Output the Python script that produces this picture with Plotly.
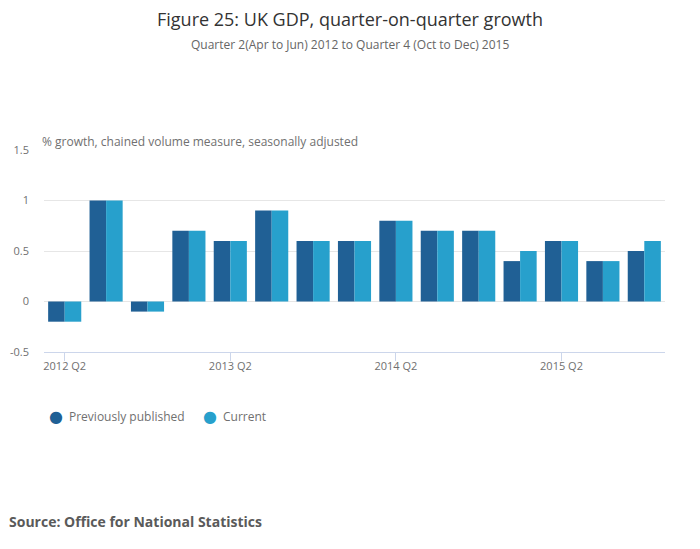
import plotly.graph_objects as go

quarters = ["2012 Q2", "2012 Q3", "2012 Q4", "2013 Q1", "2013 Q2", "2013 Q3", "2013 Q4",
            "2014 Q1", "2014 Q2", "2014 Q3", "2014 Q4", "2015 Q1", "2015 Q2", "2015 Q3", "2015 Q4"]
previously_published = [-0.2, 1.0, -0.1, 0.7, 0.6, 0.9, 0.6, 0.6, 0.8, 0.7, 0.7, 0.4, 0.6, 0.4, 0.5]
current = [-0.2, 1.0, -0.1, 0.7, 0.6, 0.9, 0.6, 0.6, 0.8, 0.7, 0.7, 0.5, 0.6, 0.4, 0.6]
x_ticks = ["2012 Q2", "2013 Q2", "2014 Q2", "2015 Q2"]
y_ticks = [-0.5, 0, 0.5, 1, 1.5]

dark = "#206095"
light = "#27a0cc"
grey = "#707070"

# page body has an 8px margin, so the figure is a bit smaller than the window
W, H = 684, 533
L, T, R, B = 36, 142, 27, 189
pw, ph = W - L - R, H - T - B


def px_x(px):
    return (px - L) / pw


def px_y(py):
    return (H - B - py) / ph


fig = go.Figure()
fig.add_trace(go.Bar(x=quarters, y=previously_published, name="Previously published",
                     marker=dict(color=dark, line=dict(width=0))))
fig.add_trace(go.Bar(x=quarters, y=current, name="Current",
                     marker=dict(color=light, line=dict(width=0))))

fig.update_layout(
    width=W, height=H,
    font=dict(family="Open Sans", color=grey, size=12),
    plot_bgcolor="white", paper_bgcolor="white",
    margin=dict(l=L, r=R, t=T, b=B),
    barmode="group", bargap=0.2, bargroupgap=0,
    showlegend=False,
)

fig.update_xaxes(type="category", tickvals=x_ticks, ticktext=x_ticks, automargin=False,
                 ticks="outside", ticklen=8, tickcolor="#ccd6eb",
                 showline=True, linecolor="#ccd6eb", linewidth=1,
                 showgrid=False, ticklabelstandoff=-4, tickfont=dict(size=11, color=grey))
fig.update_yaxes(range=[-0.5, 1.5], tickvals=y_ticks, ticktext=["-0.5", "0", "0.5", "1", "1.5"],
                 automargin=False, showgrid=True, gridcolor="#e6e6e6", zeroline=False,
                 ticks="", ticklabelstandoff=14, tickfont=dict(size=11, color=grey))

# title and subtitle
fig.add_annotation(text="Figure 25: UK GDP, quarter-on-quarter growth",
                   xref="paper", yref="paper", x=px_x(W / 2), y=px_y(11),
                   xanchor="center", yanchor="middle", showarrow=False,
                   font=dict(size=18, color="#333333"))
fig.add_annotation(text="Quarter 2(Apr to Jun) 2012 to Quarter 4 (Oct to Dec) 2015",
                   xref="paper", yref="paper", x=px_x(W / 2), y=px_y(36),
                   xanchor="center", yanchor="middle", showarrow=False,
                   font=dict(size=12, color="#666666"))

# y-axis title sitting above the plot
fig.add_annotation(text="% growth, chained volume measure, seasonally adjusted",
                   xref="paper", yref="paper", x=0, y=1, xanchor="left", yanchor="bottom",
                   showarrow=False, font=dict(size=12, color=grey), xshift=-4, yshift=-2)

# legend drawn with circles, like the original
legend_items = [("Previously published", dark, 48), ("Current", light, 202)]
for name, col, lx in legend_items:
    fig.add_annotation(text="●", xref="paper", yref="paper", x=px_x(lx), y=px_y(408),
                       xanchor="center", yanchor="middle", showarrow=False,
                       font=dict(size=16, color=col, family="DejaVu Sans"))
    fig.add_annotation(text=name, xref="paper", yref="paper", x=px_x(lx + 11), y=px_y(408),
                       xanchor="left", yanchor="middle", showarrow=False,
                       font=dict(size=12, color=grey))

fig.add_annotation(text="<b>Source: Office for National Statistics</b>",
                   xref="paper", yref="paper", x=px_x(-1), y=px_y(513),
                   xanchor="left", yanchor="middle", showarrow=False,
                   font=dict(size=14, color="#5a5a5a"))

fig.write_html("out.html")
